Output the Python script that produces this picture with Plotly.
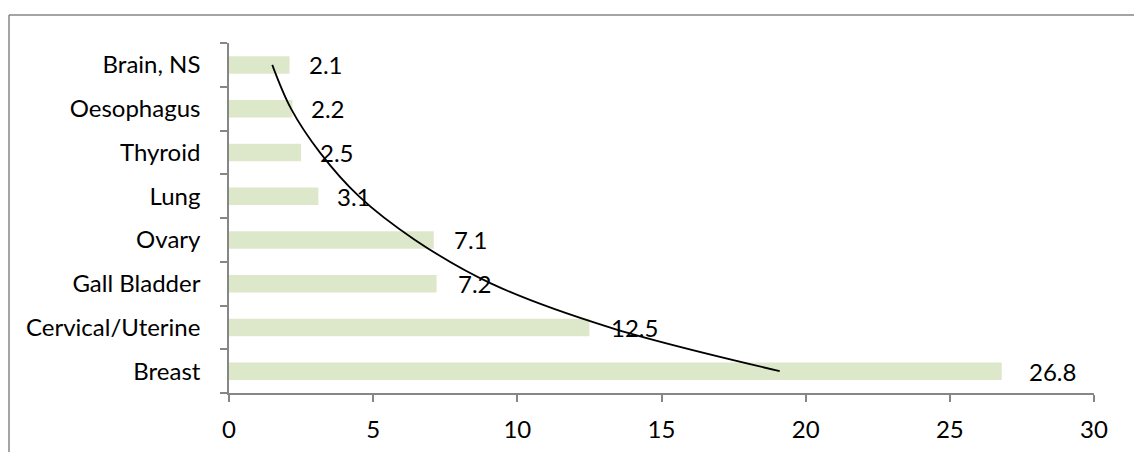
import plotly.graph_objects as go

# Cancer sites, bottom to top
sites = ["Breast", "Cervical/Uterine", "Gall Bladder", "Ovary",
         "Lung", "Thyroid", "Oesophagus", "Brain, NS"]
percent = [26.8, 12.5, 7.2, 7.1, 3.1, 2.5, 2.2, 2.1]
# Trend curve value at each site
trend = [19.1, 13.2, 9.1, 6.45, 4.5, 3.15, 2.15, 1.5]
x_ticks = [0, 5, 10, 15, 20, 25, 30]

W, H = 1134, 452
ML, MR, MT, MB = 229, 40, 43, 59
FONT = "Lato, 'Open Sans', sans-serif"
FS = 24
AXIS_GREY = "#868686"

fig = go.Figure()
fig.add_trace(go.Bar(
    y=sites, x=percent, orientation="h",
    marker=dict(color="#DDE8CB", line=dict(width=0)),
    hoverinfo="x+y",
))
fig.add_trace(go.Scatter(
    y=sites, x=trend, mode="lines",
    line=dict(color="black", width=1.8, shape="spline", smoothing=1.0),
    hoverinfo="skip",
))

# value labels just past the end of each bar
for s, v in zip(sites, percent):
    fig.add_annotation(x=v, y=s, text=f"{v}", showarrow=False,
                       xanchor="left", xshift=round(16 + 0.35 * v),
                       font=dict(family=FONT, size=FS, color="black"))

# chart frame (top and left edges; the rest runs past the canvas)
pw, ph = W - ML - MR, H - MT - MB
fx0 = (9 - ML) / pw
fy1 = (H - MB - 15) / ph
fig.add_shape(type="line", xref="paper", yref="paper",
              x0=fx0, x1=(W + 20 - ML) / pw, y0=fy1, y1=fy1,
              line=dict(color=AXIS_GREY, width=1.5))
fig.add_shape(type="line", xref="paper", yref="paper",
              x0=fx0, x1=fx0, y0=fy1, y1=-(MB + 20) / ph,
              line=dict(color=AXIS_GREY, width=1.5))

fig.update_layout(
    width=W, height=H,
    margin=dict(l=ML, r=MR, t=MT, b=MB, autoexpand=False),
    paper_bgcolor="white", plot_bgcolor="white",
    showlegend=False, bargap=0.6,
    font=dict(family=FONT, size=FS, color="black"),
)
fig.update_xaxes(
    range=[0, 30], tickvals=x_ticks, showgrid=False, zeroline=False,
    showline=True, linecolor=AXIS_GREY, linewidth=1.5, automargin=False,
    ticks="outside", ticklen=7, tickcolor=AXIS_GREY, tickwidth=1.5,
    ticklabelstandoff=7, tickfont=dict(family=FONT, size=FS, color="black"),
)
fig.update_yaxes(
    type="category", categoryorder="array", categoryarray=sites,
    range=[-0.5, 7.5], showgrid=False, zeroline=False,
    showline=True, linecolor=AXIS_GREY, linewidth=1.5, automargin=False,
    ticks="outside", ticklen=7, tickcolor=AXIS_GREY, tickwidth=1.5,
    tickson="boundaries", ticklabelstandoff=22,
    tickfont=dict(family=FONT, size=FS, color="black"),
)

fig.write_html("out.html")
